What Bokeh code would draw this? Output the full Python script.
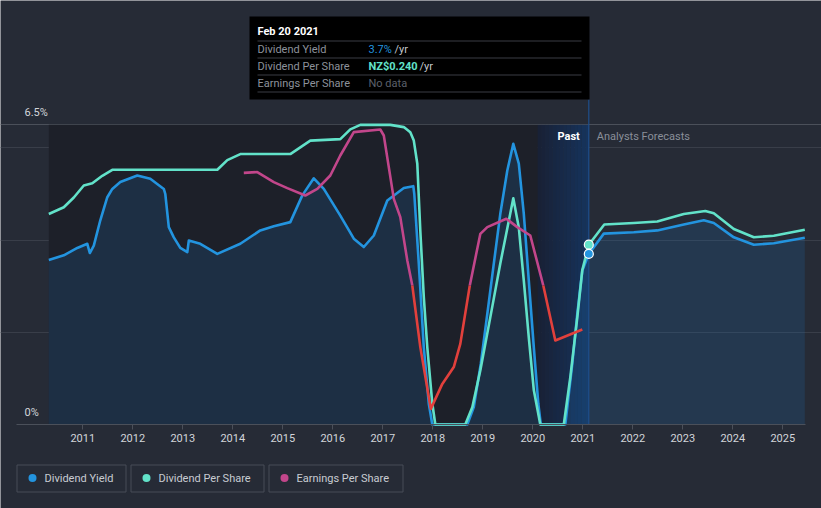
from bokeh.plotting import figure
from bokeh.models import Range1d, LinearAxis, FixedTicker, Label, Grid
from bokeh.embed import file_html
from bokeh.resources import INLINE

# ---------------- data ----------------
yield_years = [2010.32, 2010.62, 2010.89, 2011.09, 2011.14, 2011.22, 2011.35, 2011.49, 2011.59, 2011.75,
               2012.09, 2012.35, 2012.62, 2012.65, 2012.72, 2012.82, 2012.95, 2013.09, 2013.12, 2013.35,
               2013.69, 2014.15, 2014.55, 2014.82, 2015.15, 2015.39, 2015.62, 2015.82, 2016.15, 2016.42,
               2016.62, 2016.82, 2017.09, 2017.42, 2017.61, 2017.63, 2017.72, 2017.82, 2017.92, 2017.99,
               2018.69, 2018.82, 2018.96, 2019.09, 2019.22, 2019.35, 2019.49, 2019.61, 2019.72, 2019.82,
               2019.92, 2020.02, 2020.11, 2020.16, 2020.65, 2020.79, 2020.89, 2020.99, 2021.12, 2021.42,
               2022.02, 2022.49, 2023.02, 2023.42, 2023.62, 2024.02, 2024.42, 2024.82, 2025.44]
yield_pct = [3.57, 3.67, 3.83, 3.92, 3.72, 3.88, 4.43, 4.93, 5.11, 5.26,
             5.40, 5.33, 5.11, 5.00, 4.28, 4.06, 3.83, 3.74, 3.99, 3.92,
             3.70, 3.92, 4.21, 4.30, 4.39, 4.97, 5.34, 5.11, 4.53, 4.03,
             3.85, 4.10, 4.86, 5.13, 5.17, 5.00, 3.49, 1.68, 0.45, 0.0,
             0.0, 0.38, 1.32, 2.40, 3.49, 4.57, 5.51, 6.09, 5.66, 4.57,
             3.12, 1.68, 0.45, 0.0, 0.0, 1.32, 2.40, 3.34, 3.70, 4.14,
             4.17, 4.21, 4.34, 4.43, 4.37, 4.06, 3.90, 3.93, 4.05]

dps_years = [2010.32, 2010.62, 2010.82, 2011.02, 2011.19, 2011.39, 2011.59, 2013.69, 2013.89, 2014.15,
             2015.15, 2015.35, 2015.55, 2016.15, 2016.35, 2016.55, 2017.15, 2017.42, 2017.55, 2017.62,
             2017.69, 2017.75, 2017.82, 2017.89, 2017.99, 2018.05, 2018.65, 2018.79, 2018.95, 2019.15,
             2019.35, 2019.61, 2019.72, 2019.82, 2019.92, 2020.02, 2020.15, 2020.62, 2020.75, 2020.89,
             2020.99, 2021.12, 2021.43, 2022.02, 2022.49, 2023.02, 2023.45, 2023.62, 2024.02, 2024.42,
             2024.82, 2025.44]
dps_nzd = [0.281, 0.290, 0.303, 0.319, 0.322, 0.332, 0.340, 0.340, 0.353, 0.361,
           0.361, 0.370, 0.379, 0.381, 0.394, 0.400, 0.400, 0.397, 0.390, 0.379,
           0.348, 0.259, 0.170, 0.103, 0.028, 0.0, 0.0, 0.023, 0.072, 0.143,
           0.215, 0.302, 0.263, 0.192, 0.116, 0.046, 0.0, 0.0, 0.063, 0.143,
           0.206, 0.240, 0.267, 0.269, 0.271, 0.281, 0.285, 0.282, 0.261, 0.250,
           0.252, 0.260]

eps_years = [2014.22, 2014.49, 2014.82, 2015.09, 2015.45, 2015.69, 2015.95, 2016.15, 2016.42, 2016.95,
             2017.02, 2017.22, 2017.35, 2017.49, 2017.59, 2017.75, 2017.96, 2018.19, 2018.42, 2018.55,
             2018.74, 2018.95, 2019.09, 2019.47, 2019.69, 2019.95, 2020.21, 2020.45, 2020.99]
eps_nzd = [0.0563, 0.0567, 0.0517, 0.0487, 0.0450, 0.0483, 0.0550, 0.0650, 0.0767, 0.0780,
           0.0750, 0.0433, 0.0342, 0.0125, 0.0, -0.0308, -0.0617, -0.0492, -0.0408, -0.0292,
           0.0, 0.0258, 0.0292, 0.0334, 0.0292, 0.0250, 0.0, -0.0275, -0.0220]

year_ticks = list(range(2011, 2026))
year_labels = [str(y) for y in year_ticks]
y_label_values = [0.0, 6.5]
y_labels = ["0%", "6.5%"]
grid_values = [2.0, 4.0, 6.0]

cursor_year = 2021.12
cursor_yield = 3.7
cursor_dps = 0.240
past_band_start = 2020.10

tooltip_title = "Feb 20 2021"
tooltip_rows = ["Dividend Yield", "Dividend Per Share", "Earnings Per Share"]
tooltip_values = ["3.7%", "NZ$0.240", "No data"]
legend_names = ["Dividend Yield", "Dividend Per Share", "Earnings Per Share"]

# ---------------- styling ----------------
BG = "#262b36"
DARK = "#1d2029"
BLUE = "#2394df"
CYAN = "#62e2c9"
PINK = "#c2468b"
RED = "#e2403c"
GRID = "#393e49"
AXIS = "#4b505a"
TXT = "#d2d5da"
FONT = "Roboto"
FS = "11px"

W, H = 821, 508
PX_PER_YEAR = 50.0
X0 = 2011 - 82.3 / PX_PER_YEAR
PX_PER_UNIT = 46.1
BASE_PX = 424.0

def px2x(px):
    return X0 + px / PX_PER_YEAR

def py2y(py):
    return (BASE_PX - py) / PX_PER_UNIT

y_top = py2y(0)
y_bot = py2y(H)
DPS_SCALE = 0.4 / 6.5
EPS_ZERO_PX = 285.0
EPS_PER_PX = 0.0005

p = figure(width=W, height=H, output_backend="svg", toolbar_location=None,
           x_range=Range1d(px2x(0), px2x(W)), y_range=Range1d(y_bot, y_top),
           x_axis_location=None, y_axis_location=None, min_border=0)
p.extra_y_ranges = {
    "dps": Range1d(y_bot * DPS_SCALE, y_top * DPS_SCALE),
    "eps": Range1d((EPS_ZERO_PX - H) * EPS_PER_PX, EPS_ZERO_PX * EPS_PER_PX),
}
p.background_fill_color = BG
p.border_fill_color = BG
p.outline_line_color = None
p.grid.visible = False

x_lo, x_hi = px2x(16), px2x(805)

# dark "past" area and highlighted band
p.quad(left=[yield_years[0]], right=[past_band_start], bottom=[0], top=[6.5],
       fill_color=DARK, line_color=None)
n = 14
c0 = (24, 33, 54)
c1 = (22, 51, 92)
w = (cursor_year - past_band_start) / n
for i in range(n):
    t = i / (n - 1)
    col = "#%02x%02x%02x" % tuple(int(round(a + (b - a) * t)) for a, b in zip(c0, c1))
    p.quad(left=[past_band_start + i * w], right=[past_band_start + (i + 1) * w + 0.002],
           bottom=[0], top=[6.5], fill_color=col, line_color=None)

# grid lines
g = Grid(dimension=1, ticker=FixedTicker(ticks=grid_values), bounds=(x_lo, x_hi),
         grid_line_color=GRID, grid_line_width=1)
p.add_layout(g, "center")
g2 = Grid(dimension=1, ticker=FixedTicker(ticks=[6.5]), bounds=(x_lo, x_hi),
          grid_line_color=AXIS, grid_line_width=1)
p.add_layout(g2, "center")

# area under yield
p.varea(x=yield_years, y1=[0] * len(yield_years), y2=yield_pct,
        fill_color="#2070b5", fill_alpha=0.2)

# cursor line
p.segment(x0=[cursor_year], y0=[0], x1=[cursor_year], y1=[py2y(99)],
          line_color="#1f4f8c", line_width=1.2)

# lines
p.line(yield_years, yield_pct, line_color=BLUE, line_width=2.6, line_join="round")
p.line(dps_years, dps_nzd, line_color=CYAN, line_width=2.6, y_range_name="dps",
       line_join="round")

# EPS split by sign
segs = []
cur_x, cur_y = [eps_years[0]], [eps_nzd[0]]
for xx, yy in zip(eps_years[1:], eps_nzd[1:]):
    cur_x.append(xx)
    cur_y.append(yy)
    if yy == 0:
        segs.append((cur_x, cur_y))
        cur_x, cur_y = [xx], [yy]
if len(cur_x) > 1:
    segs.append((cur_x, cur_y))
for sx, sy in segs:
    neg = sum(sy) < 0
    p.line(sx, sy, line_color=RED if neg else PINK, line_width=2.6, y_range_name="eps",
           line_join="round")

# cursor markers
p.scatter([cursor_year], [cursor_dps], size=9, fill_color=CYAN, line_color="white",
          line_width=1.2, y_range_name="dps")
p.scatter([cursor_year], [cursor_yield], size=9, fill_color=BLUE, line_color="white",
          line_width=1.2)

# x axis at y=0
xa = LinearAxis(fixed_location=0, ticker=FixedTicker(ticks=year_ticks),
                major_label_overrides={t: l for t, l in zip(year_ticks, year_labels)},
                bounds=(x_lo, x_hi), axis_line_color=AXIS, axis_line_width=1,
                major_tick_line_color=AXIS, major_tick_in=0, major_tick_out=5,
                minor_tick_line_color=None, major_label_standoff=4,
                major_label_text_color=TXT, major_label_text_font=FONT,
                major_label_text_font_size=FS)
p.add_layout(xa, "below")

# y labels above their lines
for v, t in zip(y_label_values, y_labels):
    p.add_layout(Label(x=px2x(24), y=v, y_offset=6, text=t, text_color=TXT,
                       text_font=FONT, text_font_size=FS, text_baseline="bottom"))

# Past / forecasts labels
p.add_layout(Label(x=cursor_year, x_offset=-9, y=py2y(136), text="Past", text_color="#ffffff",
                   text_font=FONT, text_font_size=FS, text_align="right",
                   text_baseline="middle", text_font_style="bold"))
p.add_layout(Label(x=cursor_year, x_offset=8, y=py2y(136), text="Analysts Forecasts",
                   text_color="#8a8f99", text_font=FONT, text_font_size=FS,
                   text_align="left", text_baseline="middle"))

# tooltip
p.quad(left=[px2x(249)], right=[px2x(589)], top=[py2y(16)], bottom=[py2y(99)],
       fill_color="#000000", line_color=None)
for sy in [40.5, 57.5, 74.5, 91.5]:
    p.segment(x0=[px2x(257)], y0=[py2y(sy)], x1=[px2x(581)], y1=[py2y(sy)],
              line_color="#3a3d44", line_width=1)
p.add_layout(Label(x=px2x(257), y=py2y(31), text=tooltip_title, text_color="#ffffff",
                   text_font=FONT, text_font_size=FS, text_font_style="bold",
                   text_baseline="middle"))
row_py = [48.5, 65.5, 82.5]
val_colors = [BLUE, CYAN, "#5c616b"]
val_styles = ["normal", "bold", "normal"]
for r, v, py, vc, vs in zip(tooltip_rows, tooltip_values, row_py, val_colors, val_styles):
    p.add_layout(Label(x=px2x(257), y=py2y(py), text=r, text_color="#8d929b",
                       text_font=FONT, text_font_size=FS, text_baseline="middle"))
    p.add_layout(Label(x=px2x(368), y=py2y(py), text=v, text_color=vc, text_font_style=vs,
                       text_font=FONT, text_font_size=FS, text_baseline="middle"))
for py, sx in [(48.5, 394), (65.5, 419)]:
    p.add_layout(Label(x=px2x(sx), y=py2y(py), text="/yr", text_color="#c4c8ce",
                       text_font=FONT, text_font_size=FS, text_baseline="middle"))

# legend
boxes = [(16, 125), (130, 263), (268, 402)]
colors = [BLUE, CYAN, PINK]
for (l, r), name, c in zip(boxes, legend_names, colors):
    p.quad(left=[px2x(l + 0.5)], right=[px2x(r + 0.5)], top=[py2y(464.5)], bottom=[py2y(491.5)],
           fill_color=None, line_color="#474c57", line_width=1)
    p.scatter([px2x(l + 16)], [py2y(477.5)], size=8, fill_color=c, line_color=None)
    p.add_layout(Label(x=px2x(l + 28), y=py2y(477.5), text=name, text_color="#c8ccd2",
                       text_font=FONT, text_font_size=FS, text_baseline="middle"))

open("out.html", "w").write(file_html(p, INLINE))
